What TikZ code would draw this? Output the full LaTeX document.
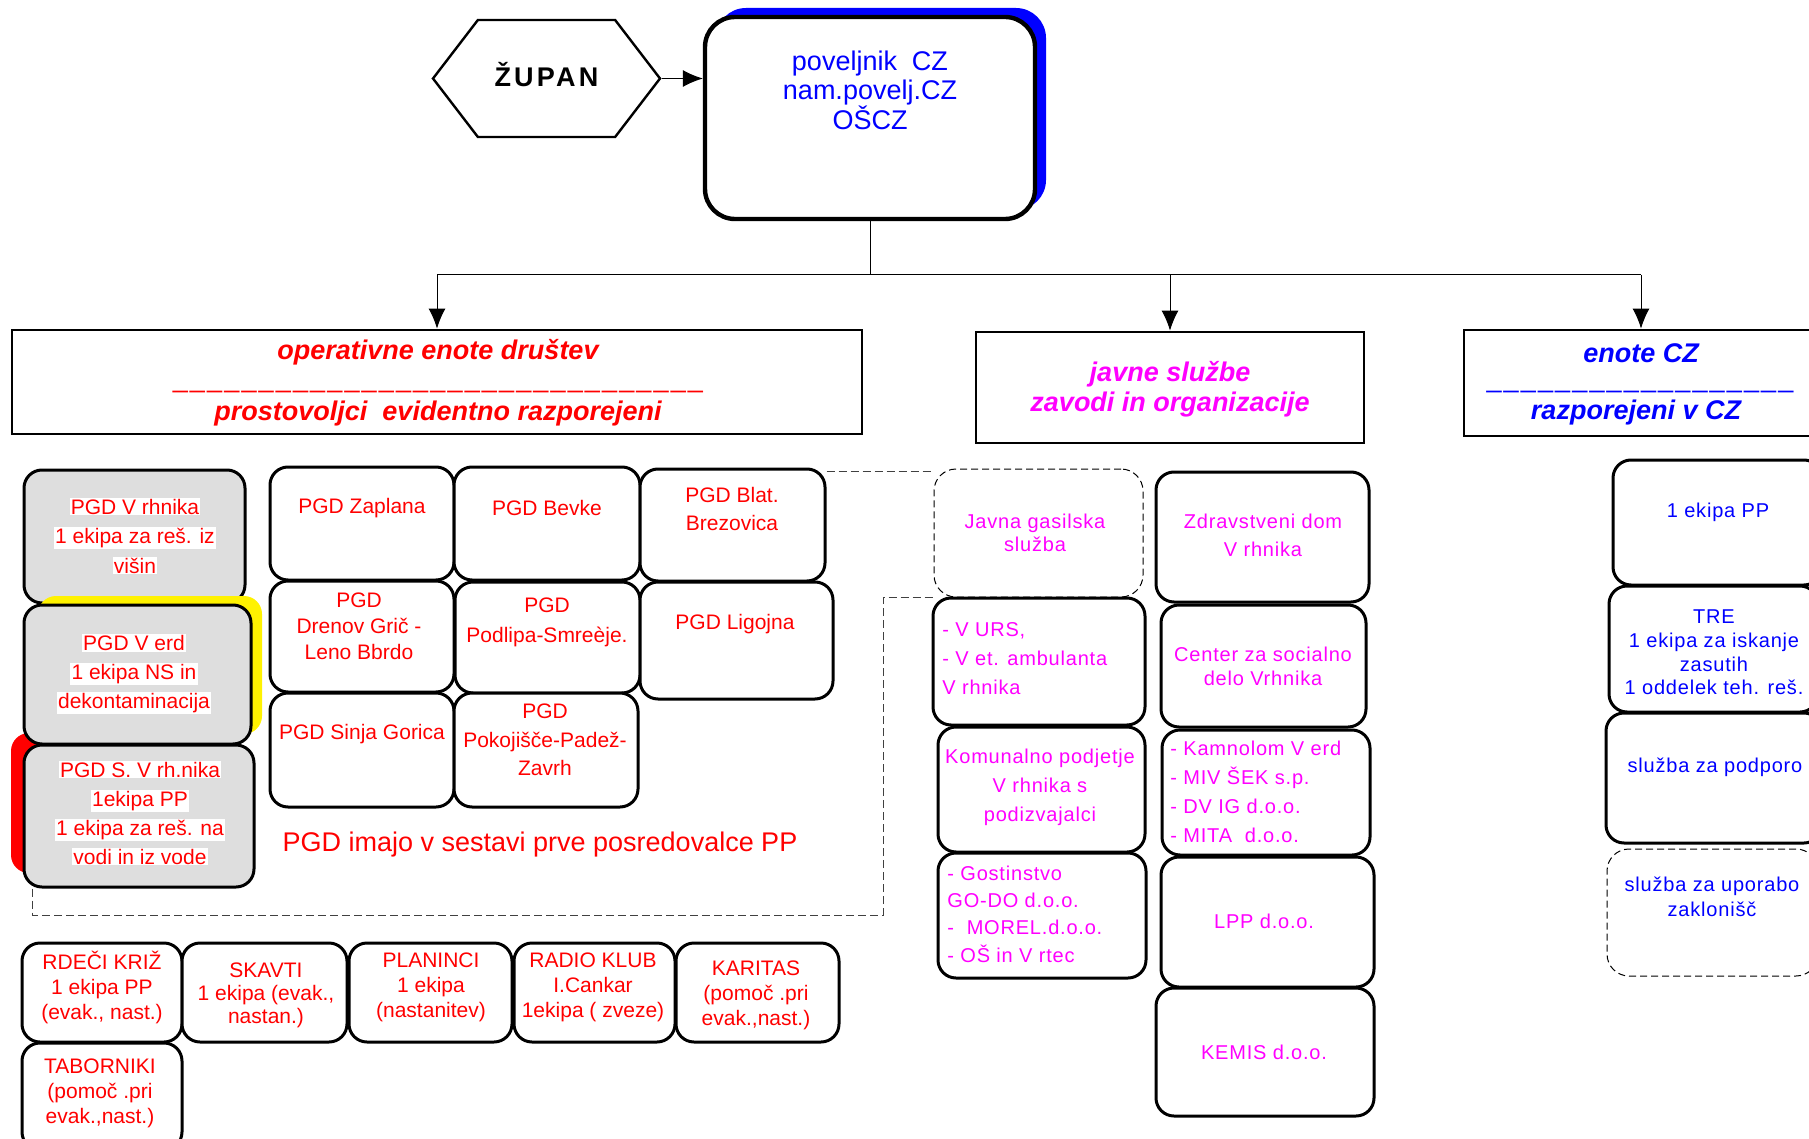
\documentclass[tikz,border=0pt]{standalone}
\usepackage{fontspec}
\setmainfont{Liberation Sans}
\newfontfamily\spaced[LetterSpace=4]{Liberation Sans}
\newfontfamily\wide[LetterSpace=12]{Liberation Sans}
\newfontfamily\undl[LetterSpace=8]{Liberation Sans}
\usetikzlibrary{arrows.meta,fit,shapes.symbols}
\definecolor{mag}{RGB}{255,0,255}
\newcommand\onwhite[1]{{\setlength\fboxsep{0.6pt}\colorbox{white}{#1}}}
\begin{document}
\begin{tikzpicture}[x=0.5pt,y=-0.5pt,
  box/.style={draw, line width=1.5pt, rounded corners=9pt, fill=white, inner sep=0pt},
  gbox/.style={box, fill=black!13},
  dbox/.style={draw, line width=0.5pt, dash pattern=on 3.5pt off 2pt, rounded corners=11pt, inner sep=0pt},
  shbox/.style={rounded corners=9pt, inner sep=0pt},
  titbox/.style={draw, line width=1.4pt, fill=white, inner sep=0pt},
  rtxt/.style={text=red, align=center, inner sep=0pt, font=\fontsize{10.5}{#1}\selectfont},
  rtxt/.default=14,
  mtxt/.style={text=mag, align=center, inner sep=0pt, font=\spaced\fontsize{10}{#1}\selectfont},
  mtxt/.default=14.5,
  btxt/.style={text=blue, align=center, inner sep=0pt, font=\spaced\fontsize{10}{#1}\selectfont},
  btxt/.default=12,
  ttl/.style={inner sep=0pt, font=\bfseries\itshape\fontsize{13.5}{16}\selectfont},
  dashrow/.style={inner sep=0pt, font=\undl\fontsize{13.5}{16}\selectfont},
  conn/.style={line width=0.5pt},
  dconn/.style={draw=black!75, line width=0.5pt, dash pattern=on 4pt off 2pt},
  arr/.style={-{Latex[length=10pt,width=8.5pt]}}]
\useasboundingbox (0,0) rectangle (1809,1139);
\clip (0,0) rectangle (1809,1139);

% zupan and command
\node[shbox, fill=blue, rounded corners=15pt, fit={(716,8) (1046,210)}] (main-sh) {};
\node[box, line width=2.2pt, rounded corners=15pt, fit={(705,17) (1035,219)}] (main) {};
\node[text=blue, align=center, inner sep=0pt, font=\fontsize{13.5}{14.75}\selectfont] (main-t) at (870,90) {poveljnik\ \ CZ\\nam.povelj.CZ\\OŠCZ};
\node[signal, signal to=west and east, signal pointer angle=105, draw, line width=1.2pt, minimum width=113.5pt, minimum height=58.5pt, inner sep=0pt, text height=0.82em, text depth=0pt, font=\wide\bfseries\fontsize{13.5}{16}\selectfont] (zupan) at (546.5,78.5) {ŽUPAN};
\draw[conn, arr] (zupan.east) -- (zupan.east -| main.west);

% title boxes
\node[titbox, fit={(12,330) (862,434)}] (op) {};
\node[ttl, text=red] (op-t1) at (438,352) {operativne enote društev};
\node[dashrow, text=red] (op-t2) at (438,390) {\detokenize{_______________________________}};
\node[ttl, text=red] (op-t3) at (438,414) {prostovoljci\ \ evidentno razporejeni};
\node[titbox, fit={(976,332) (1364,443)}] (js) {};
\node[ttl, text=mag] (js-t1) at (1170,374) {javne službe};
\node[ttl, text=mag] (js-t2) at (1170,405) {zavodi in organizacije};
\node[titbox, fit={(1464,330) (1818,436)}] (cz) {};
\node[ttl, text=blue] (cz-t1) at (1641,353) {enote CZ};
\node[dashrow, text=blue] (cz-t2) at (1640,390) {\detokenize{__________________}};
\node[ttl, text=blue] (cz-t3) at (1636,413) {razporejeni v CZ};

\coordinate (bus) at (870,275);
\draw[conn] (main.south) -- (bus);
\draw[conn] (bus -| op.north) -- (bus -| cz.north);
\draw[conn, arr] (bus -| op.north) -- (op.north);
\draw[conn, arr] (bus -| js.north) -- (js.north);
\draw[conn, arr] (bus -| cz.north) -- (cz.north);

% operativne enote
\node[gbox, fit={(24,470) (245,603)}] (vrh) {};
\node[rtxt=14.75] (vrh-t) at (135,536) {\onwhite{PGD V rhnika}\\\onwhite{1 ekipa za reš. iz}\\\onwhite{višin}};
\node[shbox, fill=yellow, fit={(38,596) (262,734)}] (verd-sh) {};
\node[shbox, fill=red, fit={(11,733) (242,873)}] (svrh-sh) {};
\node[gbox, fit={(24,605) (251,744)}] (verd) {};
\node[rtxt=14.5] (verd-t) at (134,674) {\onwhite{PGD V erd}\\\onwhite{1 ekipa NS in}\\\onwhite{dekontaminacija}};
\node[gbox, fit={(24,745) (254,887)}] (svrh) {};
\node[rtxt=14.5] (svrh-t) at (140,813) {\onwhite{PGD S. V rh.nika}\\\onwhite{1ekipa PP}\\\onwhite{1 ekipa za reš. na}\\\onwhite{vodi in iz vode}};

\node[box, fit={(270,467) (454,580)}] (zaplana) {};
\node[rtxt] (zaplana-t) at (362,508) {PGD Zaplana};
\node[box, fit={(454,467) (640,580)}] (bevke) {};
\node[rtxt] (bevke-t) at (547,508) {PGD Bevke};
\node[box, fit={(640,469) (825,581)}] (blat) {};
\node[rtxt] (blat-t) at (732,509) {PGD Blat.\\Brezovica};
\node[box, fit={(270,581) (454,692)}] (drenov) {};
\node[rtxt=13] (drenov-t) at (359,626) {PGD\\Drenov Grič -\\Leno Bbrdo};
\node[box, fit={(455,582) (640,693)}] (podlipa) {};
\node[rtxt=15] (podlipa-t) at (547,622) {PGD\\Podlipa-Smreèje.};
\node[box, fit={(640,582) (833,699)}] (ligojna) {};
\node[rtxt] (ligojna-t) at (735,624) {PGD Ligojna};
\node[box, fit={(270,693) (454,807)}] (sinja) {};
\node[rtxt] (sinja-t) at (362,734) {PGD Sinja Gorica};
\node[box, fit={(454,693) (638,807)}] (pokoj) {};
\node[rtxt=14.25] (pokoj-t) at (545,740) {PGD\\Pokojišče-Padež-\\Zavrh};
\node[text=red, inner sep=0pt, font=\fontsize{13.5}{16}\selectfont] (imajo) at (540,845) {PGD imajo v sestavi prve posredovalce PP};

\node[box, fit={(22,943) (182,1042)}] (rdeci) {};
\node[rtxt=12.5] (rdeci-t) at (102,987) {RDEČI KRIŽ\\1 ekipa PP\\(evak., nast.)};
\node[box, fit={(182,943) (347,1042)}] (skavti) {};
\node[rtxt=11.5] (skavti-t) at (266,995) {SKAVTI\\1 ekipa (evak.,\\nastan.)};
\node[box, fit={(349,943) (512,1042)}] (planinci) {};
\node[rtxt=12.5] (planinci-t) at (431,987) {PLANINCI\\1 ekipa\\(nastanitev)};
\node[box, fit={(514,943) (675,1042)}] (radio) {};
\node[rtxt=12.5] (radio-t) at (593,987) {RADIO KLUB\\I.Cankar\\1ekipa ( zveze)};
\node[box, fit={(676,943) (839,1042)}] (karitas) {};
\node[rtxt=12.5] (karitas-t) at (756,995) {KARITAS\\(pomoč .pri\\evak.,nast.)};
\node[box, fit={(22,1043) (182,1150)}] (taborniki) {};
\node[rtxt=12.5] (taborniki-t) at (100,1093) {TABORNIKI\\(pomoč .pri\\evak.,nast.)};

% javne sluzbe
\node[dbox, fit={(934,469) (1143,597)}] (javna) {};
\node[mtxt=11.5] (javna-t) at (1035,533) {Javna gasilska\\služba};
\draw[dconn] ([yshift=-2pt]blat.north east) -- ([yshift=-2pt]blat.north east -| javna.west);
\draw[dconn] ([xshift=5pt]svrh.south west) |- (883,915) |- (javna.south west);
\node[box, fit={(933,598) (1145,725)}] (vurs) {};
\node[mtxt, align=left, anchor=west] (vurs-t) at (942,659) {- V URS,\\- V et. ambulanta\\V rhnika};
\node[box, fit={(938,727) (1145,852)}] (komunal) {};
\node[mtxt] (komunal-t) at (1040,787) {Komunalno podjetje\\V rhnika s\\podizvajalci};
\node[box, fit={(938,853) (1146,978)}] (gostin) {};
\node[mtxt=13.7, align=left, anchor=west] (gostin-t) at (947,914) {- Gostinstvo\\GO-DO d.o.o.\\-\ \ MOREL.d.o.o.\\- OŠ in V rtec};
\node[box, fit={(1156,472) (1369,602)}] (zdrav) {};
\node[mtxt=14] (zdrav-t) at (1263,535) {Zdravstveni dom\\V rhnika};
\node[box, fit={(1161,605) (1366,727)}] (csd) {};
\node[mtxt=12] (csd-t) at (1263,666) {Center za socialno\\delo Vrhnika};
\node[box, fit={(1162,730) (1370,855)}] (kamnolom) {};
\node[mtxt, align=left, anchor=west] (kamnolom-t) at (1170,791.5) {- Kamnolom V erd\\- MIV ŠEK s.p.\\- DV IG d.o.o.\\- MITA\ \ d.o.o.};
\node[box, fit={(1161,857) (1374,987)}] (lpp) {};
\node[mtxt] (lpp-t) at (1264,921) {LPP d.o.o.};
\node[box, fit={(1156,988) (1374,1116)}] (kemis) {};
\node[mtxt] (kemis-t) at (1264,1052) {KEMIS d.o.o.};

% enote CZ
\node[box, fit={(1613,460) (1822,585)}] (ekipa) {};
\node[btxt] (ekipa-t) at (1718,512) {1 ekipa PP};
\node[box, fit={(1609,586) (1818,712)}] (tre) {};
\node[btxt=11.9] (tre-t) at (1714,652.5) {TRE\\1 ekipa za iskanje\\zasutih\\1 oddelek teh. reš.};
\node[box, fit={(1606,713) (1822,843)}] (podpora) {};
\node[btxt] (podpora-t) at (1715,767) {služba za podporo};
\node[dbox, fit={(1607,849) (1818,976)}] (zaklon) {};
\node[btxt=12.5] (zaklon-t) at (1712,897) {služba za uporabo\\zaklonišč};
\end{tikzpicture}
\end{document}
